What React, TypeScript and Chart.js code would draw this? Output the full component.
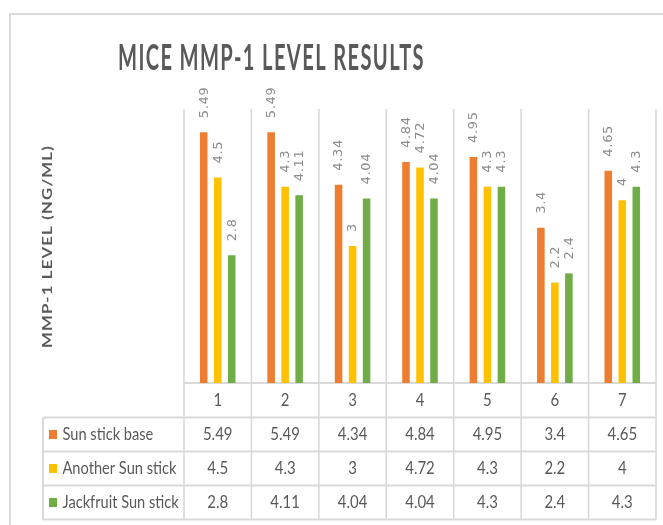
import React, { useEffect, useRef } from "react";
import { Chart, registerables } from "chart.js";

Chart.register(...registerables);

const categories = ["1", "2", "3", "4", "5", "6", "7"];
const seriesNames = ["Sun stick base", "Another Sun stick", "Jackfruit Sun stick"];
const sunStickBase = [5.49, 5.49, 4.34, 4.84, 4.95, 3.4, 4.65];
const anotherSunStick = [4.5, 4.3, 3, 4.72, 4.3, 2.2, 4];
const jackfruitSunStick = [2.8, 4.11, 4.04, 4.04, 4.3, 2.4, 4.3];
const seriesColors = ["#ED7D31", "#FFC000", "#70AD47"];
const yMin = 0;
const yMax = 6;
const titleText = "MICE MMP-1 LEVEL RESULTS";
const yAxisTitle = "MMP-1 LEVEL (NG/ML)";

const W = 663;
const H = 525;
const TEXT = "#595959";
const LINE = "#d9d9d9";

function drawText(
  ctx: CanvasRenderingContext2D,
  s: string,
  x: number,
  y: number,
  font: string,
  color: string,
  align: CanvasTextAlign,
  sx = 1,
  ls = "0px",
  fitWidth?: number
) {
  ctx.save();
  ctx.font = font;
  (ctx as any).letterSpacing = ls;
  ctx.fillStyle = color;
  ctx.textAlign = align;
  ctx.textBaseline = "middle";
  let scale = sx;
  if (fitWidth) {
    const m = ctx.measureText(s).width;
    scale = fitWidth / m;
  }
  ctx.translate(x, y);
  ctx.scale(scale, 1);
  ctx.fillText(s, 0, 0);
  ctx.restore();
}

const tablePlugin = {
  id: "tablePlugin",
  beforeDraw(chart: any) {
    const ctx = chart.ctx as CanvasRenderingContext2D;
    ctx.save();
    ctx.fillStyle = "#ffffff";
    ctx.fillRect(0, 0, chart.width, chart.height);
    ctx.strokeStyle = LINE;
    ctx.lineWidth = 2;
    ctx.strokeRect(10, 14, chart.width + 20, chart.height + 20);
    ctx.restore();
  },
  beforeDatasetsDraw(chart: any) {
    const ctx = chart.ctx as CanvasRenderingContext2D;
    const area = chart.chartArea;
    const xs = chart.scales.x;
    const catW = xs.getPixelForValue(1) - xs.getPixelForValue(0);
    const headerBottom = area.bottom + 34.5;
    const rowH = 34;
    const tableBottom = headerBottom + rowH * seriesNames.length;
    const tableLeft = 43;

    ctx.save();
    ctx.strokeStyle = LINE;
    ctx.lineWidth = 1.6;
    for (let i = 0; i <= categories.length; i++) {
      const x = i < categories.length ? xs.getPixelForValue(i) - catW / 2 : xs.getPixelForValue(categories.length - 1) + catW / 2;
      ctx.beginPath();
      ctx.moveTo(x, area.top);
      ctx.lineTo(x, tableBottom);
      ctx.stroke();
    }
    ctx.lineWidth = 2;
    ctx.beginPath();
    ctx.moveTo(area.left, area.bottom);
    ctx.lineTo(area.right, area.bottom);
    ctx.stroke();
    for (let r = 0; r <= seriesNames.length; r++) {
      const y = headerBottom + r * rowH;
      ctx.beginPath();
      ctx.moveTo(tableLeft, y);
      ctx.lineTo(area.right, y);
      ctx.stroke();
    }
    ctx.beginPath();
    ctx.moveTo(tableLeft, headerBottom);
    ctx.lineTo(tableLeft, tableBottom);
    ctx.stroke();
    ctx.restore();

    const tFont = "17px Lato";
    categories.forEach((c, i) => {
      drawText(ctx, c, xs.getPixelForValue(i), (area.bottom + headerBottom) / 2 + 0.5, tFont, TEXT, "center", 0.88);
    });
    const rows = [sunStickBase, anotherSunStick, jackfruitSunStick];
    rows.forEach((vals, r) => {
      const cy = headerBottom + r * rowH + rowH / 2;
      ctx.save();
      ctx.fillStyle = seriesColors[r];
      ctx.fillRect(49, cy - 4.5, 8, 9);
      ctx.restore();
      drawText(ctx, seriesNames[r], 62.5, cy, tFont, TEXT, "left", 0.86);
      vals.forEach((v, i) => {
        drawText(ctx, String(v), xs.getPixelForValue(i), cy, tFont, TEXT, "center", 0.88);
      });
    });

    drawText(ctx, titleText, 271.5, 58, "bold 37px Lato", TEXT, "center", 1, "2.5px", 307);
    ctx.save();
    ctx.translate(47.5, 246.5);
    ctx.rotate(-Math.PI / 2);
    drawText(ctx, yAxisTitle, 0, 0, "bold 14px Lato", TEXT, "center", 1, "1px", 203);
    ctx.restore();
  },
  afterDatasetsDraw(chart: any) {
    const ctx = chart.ctx as CanvasRenderingContext2D;
    chart.data.datasets.forEach((ds: any, di: number) => {
      const meta = chart.getDatasetMeta(di);
      meta.data.forEach((bar: any, i: number) => {
        const v = ds.data[i];
        ctx.save();
        ctx.translate(bar.x + 0.5, bar.y - 14);
        ctx.rotate(-Math.PI / 2);
        ctx.font = "13px 'DejaVu Sans'";
        (ctx as any).letterSpacing = "0.7px";
        ctx.fillStyle = "#8c8c8c";
        ctx.textAlign = "left";
        ctx.textBaseline = "middle";
        ctx.fillText(String(v), 0, 0);
        ctx.restore();
      });
    });
  },
};

export default function App() {
  const ref = useRef<HTMLCanvasElement | null>(null);
  useEffect(() => {
    if (!ref.current) return;
    const chart = new Chart(ref.current, {
      type: "bar",
      data: {
        labels: categories,
        datasets: [
          { label: seriesNames[0], data: sunStickBase, backgroundColor: seriesColors[0] },
          { label: seriesNames[1], data: anotherSunStick, backgroundColor: seriesColors[1] },
          { label: seriesNames[2], data: jackfruitSunStick, backgroundColor: seriesColors[2] },
        ],
      },
      options: {
        responsive: false,
        animation: false,
        devicePixelRatio: 1,
        datasets: { bar: { barPercentage: 0.54, categoryPercentage: 0.623 } },
        layout: { padding: { left: 184, right: 7, top: 109, bottom: 142 } },
        scales: {
          x: { display: false, offset: true },
          y: { display: false, min: yMin, max: yMax },
        },
        plugins: {
          legend: { display: false },
          title: { display: false },
          tooltip: { enabled: false },
        },
      },
      plugins: [tablePlugin],
    } as any);
    return () => chart.destroy();
  }, []);
  return (
    <div style={{ position: "fixed", left: 0, top: 0, width: W, height: H, background: "#fff" }}>
      <canvas ref={ref} width={W} height={H} style={{ width: W, height: H, display: "block" }} />
    </div>
  );
}
